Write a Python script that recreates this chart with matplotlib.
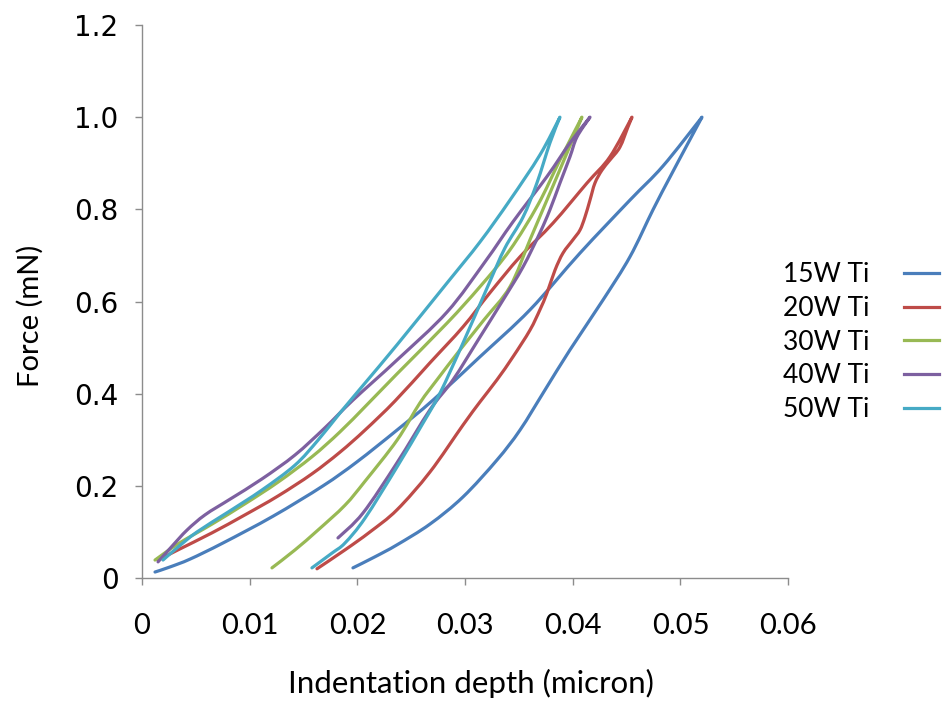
from matplotlib import pyplot as plt
from matplotlib.path import Path
from matplotlib.patches import PathPatch
from matplotlib.lines import Line2D
import numpy as np

labels = ['15W Ti', '20W Ti', '30W Ti', '40W Ti', '50W Ti']
colors = ['#4A7EBB', '#BE4B48', '#98B954', '#7D60A0', '#46AAC5']

# 15W Ti
load_x_15 = [0.00121, 0.00260, 0.00446, 0.00752, 0.01216, 0.01681, 0.01996, 0.02368, 0.02702, 0.03138,
             0.03603, 0.04067, 0.04531, 0.04838, 0.05200]
load_y_15 = [0.013, 0.024, 0.041, 0.076, 0.134, 0.200, 0.252, 0.321, 0.386, 0.480,
             0.582, 0.705, 0.820, 0.894, 1.000]
unload_x_15 = [0.05060, 0.04903, 0.04745, 0.04531, 0.04280, 0.03974, 0.03742, 0.03510, 0.03296, 0.02981,
               0.02674, 0.02368, 0.02163, 0.01959]
unload_y_15 = [0.939, 0.870, 0.799, 0.697, 0.603, 0.495, 0.408, 0.321, 0.256, 0.176,
               0.117, 0.072, 0.046, 0.022]

# 20W Ti
load_x_20 = [0.00149, 0.00334, 0.00650, 0.00956, 0.01263, 0.01578, 0.01838, 0.02071, 0.02349, 0.02674,
             0.02981, 0.03231, 0.03510, 0.03816, 0.04132, 0.04345, 0.04550]
load_y_20 = [0.039, 0.061, 0.098, 0.137, 0.178, 0.226, 0.273, 0.321, 0.384, 0.467,
             0.545, 0.619, 0.697, 0.770, 0.857, 0.914, 1.000]
unload_x_20 = [0.04513, 0.04438, 0.04345, 0.04271, 0.04206, 0.04160, 0.04113, 0.04067, 0.04002, 0.03909,
               0.03835, 0.03760, 0.03695, 0.03603, 0.03445, 0.03296, 0.03138, 0.02981, 0.02674, 0.02368,
               0.02117, 0.01885, 0.01625]
unload_y_20 = [0.979, 0.935, 0.907, 0.885, 0.857, 0.820, 0.783, 0.755, 0.734, 0.705,
               0.668, 0.618, 0.582, 0.538, 0.480, 0.430, 0.382, 0.332, 0.230, 0.148,
               0.100, 0.061, 0.020]

# 30W Ti
load_x_30 = [0.00121, 0.00334, 0.00650, 0.00956, 0.01263, 0.01578, 0.01838, 0.02089, 0.02368, 0.02832,
             0.03138, 0.03417, 0.03677, 0.03881, 0.04085]
load_y_30 = [0.039, 0.074, 0.117, 0.161, 0.208, 0.263, 0.317, 0.376, 0.443, 0.553,
             0.632, 0.712, 0.810, 0.907, 1.000]
unload_x_30 = [0.03946, 0.03760, 0.03603, 0.03417, 0.03175, 0.02953, 0.02739, 0.02581, 0.02368, 0.02071,
               0.01885, 0.01634, 0.01421, 0.01207]
unload_y_30 = [0.922, 0.820, 0.734, 0.632, 0.560, 0.495, 0.430, 0.380, 0.299, 0.210,
               0.158, 0.104, 0.061, 0.022]

# 40W Ti
load_x_40 = [0.00149, 0.00279, 0.00418, 0.00585, 0.00817, 0.01114, 0.01421, 0.01699, 0.01959, 0.02368,
             0.02832, 0.03185, 0.03445, 0.03760, 0.03974, 0.04160]
load_y_40 = [0.035, 0.069, 0.104, 0.137, 0.171, 0.215, 0.267, 0.326, 0.386, 0.473,
             0.577, 0.686, 0.773, 0.871, 0.944, 1.000]
unload_x_40 = [0.04039, 0.03974, 0.03881, 0.03788, 0.03695, 0.03538, 0.03352, 0.03120, 0.02888, 0.02674,
               0.02368, 0.02052, 0.01820]
unload_y_40 = [0.957, 0.914, 0.857, 0.799, 0.749, 0.675, 0.603, 0.516, 0.430, 0.365,
               0.250, 0.141, 0.087]

# 50W Ti
load_x_50 = [0.00195, 0.00334, 0.00511, 0.00799, 0.01114, 0.01421, 0.01634, 0.01838, 0.02071, 0.02368,
             0.02832, 0.03138, 0.03417, 0.03695, 0.03881]
load_y_50 = [0.039, 0.067, 0.100, 0.143, 0.191, 0.245, 0.299, 0.358, 0.423, 0.506,
             0.640, 0.729, 0.820, 0.918, 1.000]
unload_x_50 = [0.03788, 0.03667, 0.03538, 0.03370, 0.03213, 0.02981, 0.02767, 0.02609, 0.02368, 0.02071,
               0.01885, 0.01764, 0.01578]
unload_y_50 = [0.944, 0.857, 0.783, 0.716, 0.634, 0.510, 0.401, 0.336, 0.241, 0.130,
               0.076, 0.054, 0.022]

x_ticks = [0, 0.01, 0.02, 0.03, 0.04, 0.05, 0.06]
x_tick_labels = ['0', '0.01', '0.02', '0.03', '0.04', '0.05', '0.06']
y_ticks = [0, 0.2, 0.4, 0.6, 0.8, 1.0, 1.2]
y_tick_labels = ['0', '0.2', '0.4', '0.6', '0.8', '1.0', '1.2']


def smooth_segments(pts):
    # catmull-rom style bezier through the points (like a "smoothed line" in a spreadsheet)
    verts, codes = [], []
    n = len(pts)
    for i in range(n - 1):
        p0 = pts[i - 1] if i > 0 else pts[i]
        p1 = pts[i]
        p2 = pts[i + 1]
        p3 = pts[i + 2] if i + 2 < n else pts[i + 1]
        verts += [p1 + (p2 - p0) / 6.0, p2 - (p3 - p1) / 6.0, p2]
        codes += [Path.CURVE4] * 3
    return verts, codes


def main():
    series = [
        (load_x_15, load_y_15, unload_x_15, unload_y_15),
        (load_x_20, load_y_20, unload_x_20, unload_y_20),
        (load_x_30, load_y_30, unload_x_30, unload_y_30),
        (load_x_40, load_y_40, unload_x_40, unload_y_40),
        (load_x_50, load_y_50, unload_x_50, unload_y_50),
    ]

    fig = plt.figure(figsize=(9.53, 7.08), dpi=100)
    ax = fig.add_axes([0.149, 0.1836, 0.678, 0.7811])

    handles = []
    for (lx, ly, ux, uy), lab, col in zip(series, labels, colors):
        load = np.column_stack([lx, ly])
        unload = np.column_stack([[lx[-1]] + ux, [ly[-1]] + uy])
        v1, c1 = smooth_segments(load)
        v2, c2 = smooth_segments(unload)
        path = Path([load[0]] + v1 + v2, [Path.MOVETO] + c1 + c2)
        ax.add_patch(PathPatch(path, fill=False, edgecolor=col, lw=2.3,
                               joinstyle='round', capstyle='round'))
        handles.append(Line2D([], [], color=col, lw=2.3, label=lab))

    ax.set_xlim(0, 0.06)
    ax.set_ylim(0, 1.2)
    ax.set_xticks(x_ticks)
    ax.set_xticklabels(x_tick_labels, fontfamily='Lato', fontsize=21)
    ax.set_yticks(y_ticks)
    ax.set_yticklabels(y_tick_labels, fontfamily='DejaVu Sans', fontsize=20)

    for side in ['top', 'right']:
        ax.spines[side].set_visible(False)
    for side in ['left', 'bottom']:
        ax.spines[side].set_color('#8C8C8C')
        ax.spines[side].set_linewidth(1.0)
    ax.tick_params(axis='both', direction='out', length=5, width=1.0, color='#8C8C8C')
    ax.tick_params(axis='x', pad=20)
    ax.tick_params(axis='y', pad=12)

    fig.text(471 / 953, 1 - 683 / 708, 'Indentation depth (micron)', fontfamily='Lato', fontsize=22.5,
             ha='center', va='center')
    fig.text(30 / 953, 1 - 316 / 708, 'Force (mN)', fontfamily='Lato', fontsize=21,
             ha='center', va='center', rotation=90)

    ax.legend(handles=handles, loc='center left', bbox_to_anchor=(783 / 953, 1 - 342 / 708),
              bbox_transform=fig.transFigure, frameon=False, markerfirst=False, handlelength=1.35,
              handletextpad=1.3, labelspacing=0.33, borderpad=0, borderaxespad=0,
              prop={'family': 'Lato', 'size': 19})

    fig.savefig('out.png', dpi=100)
    plt.close('all')


if __name__ == "__main__":
    main()
